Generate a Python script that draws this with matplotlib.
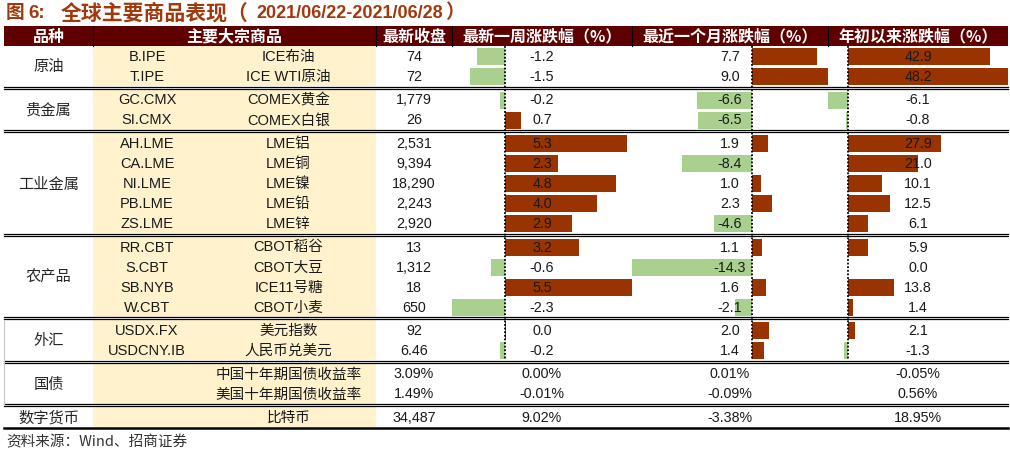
import matplotlib
matplotlib.use("Agg")
import matplotlib.pyplot as plt

categories = ["原油", "贵金属", "工业金属", "农产品", "外汇", "国债", "数字货币"]
group_sizes = [2, 2, 5, 4, 2, 2, 1]
codes = ["B.IPE", "T.IPE", "GC.CMX", "SI.CMX", "AH.LME", "CA.LME", "NI.LME",
         "PB.LME", "ZS.LME", "RR.CBT", "S.CBT", "SB.NYB", "W.CBT", "USDX.FX",
         "USDCNY.IB", "", "", ""]
names = ["ICE布油", "ICE WTI原油", "COMEX黄金", "COMEX白银", "LME铝", "LME铜",
         "LME镍", "LME铅", "LME锌", "CBOT稻谷", "CBOT大豆", "ICE11号糖", "CBOT小麦",
         "美元指数", "人民币兑美元", "中国十年期国债收益率", "美国十年期国债收益率", "比特币"]
close = ["74", "72", "1,779", "26", "2,531", "9,394", "18,290", "2,243", "2,920",
         "13", "1,312", "18", "650", "92", "6.46", "3.09%", "1.49%", "34,487"]
week = [-1.2, -1.5, -0.2, 0.7, 5.3, 2.3, 4.8, 4.0, 2.9, 3.2, -0.6, 5.5, -2.3, 0.04, -0.2]
month = [7.7, 9.0, -6.6, -6.5, 1.9, -8.4, 1.0, 2.3, -4.6, 1.1, -14.3, 1.6, -2.1, 2.0, 1.4]
ytd = [42.9, 48.2, -6.1, -0.8, 27.9, 21.0, 10.1, 12.5, 6.1, 5.9, 0.0, 13.8, 1.4, 2.1, -1.3]
week_pct = ["0.00%", "-0.01%", "9.02%"]
month_pct = ["0.01%", "-0.09%", "-3.38%"]
ytd_pct = ["-0.05%", "0.56%", "18.95%"]
headers = ["品种", "主要大宗商品", "最新收盘", "最新一周涨跌幅（%）",
           "最近一个月涨跌幅（%）", "年初以来涨跌幅（%）"]
title_cn = "全球主要商品表现（"
title_date = "2021/06/22-2021/06/28"
source = "资料来源：Wind、招商证券"

# ---- layout (pixels) ----
W, H = 1010, 453
LEFT, RIGHT = 4, 1008
col_x = [LEFT, 93, 376, 452, 632, 828, RIGHT]
split_x = 201           # between code and name inside the beige area
head_top, head_bot = 26, 46
rh, gap = 20, 3.5

RED = "#993300"
GREEN = "#a9d08e"
BEIGE = "#fff2cc"
HEAD = "#5e0000"
TXT = "#1a1a1a"
LAT = ["Liberation Sans", "Noto Sans CJK SC"]
CJK = ["Noto Sans CJK SC", "DejaVu Sans"]

row_top = []
group_bounds = []
y = head_bot
for g in group_sizes:
    g0 = y
    for i in range(g):
        row_top.append(y)
        y += rh
    group_bounds.append((g0, y))
    y += gap
bottom = group_bounds[-1][1]
row_mid = [t + rh / 2 for t in row_top]
n_bar = len(week)

fig = plt.figure(figsize=(W / 100, H / 100), dpi=100)


def pixel_axes():
    a = fig.add_axes([0, 0, 1, 1])
    a.set_xlim(0, W)
    a.set_ylim(H, 0)
    a.axis("off")
    a.patch.set_alpha(0)
    return a


bg = pixel_axes()

# header band and beige block
bg.add_patch(plt.Rectangle((LEFT, head_top), RIGHT - LEFT, head_bot - head_top,
                           color=HEAD, lw=0))
for g0, g1 in group_bounds:
    bg.add_patch(plt.Rectangle((col_x[1], g0), col_x[2] - col_x[1], g1 - g0,
                               color=BEIGE, lw=0))

# ---- data bars, one axes per column, scaled min..max like Excel ----
bar_cols = [week, month, ytd]
for k, vals in enumerate(bar_cols):
    x0, x1 = col_x[3 + k], col_x[4 + k]
    bax = fig.add_axes([x0 / W, 0, (x1 - x0) / W, 1])
    bax.set_ylim(H, 0)
    bax.set_xlim(min(vals), max(vals))
    bax.axis("off")
    bax.patch.set_alpha(0)
    colors = [RED if v >= 0 else GREEN for v in vals]
    bax.barh([m + 0.6 for m in row_mid[:n_bar]], vals, height=17,
             color=colors, lw=0)
    bax.vlines(0, head_bot, row_top[n_bar - 1] + rh, colors="black",
               linestyles=(0, (1, 1)), lw=1.3)

top = pixel_axes()

# title
tc = "#a03a0e"
top.text(6, 13, "图", family=CJK, fontsize=13.5, fontweight="bold", color=tc,
         va="center", ha="left")
top.text(28, 13, "6:", family=LAT, fontsize=13.5, fontweight="bold", color=tc,
         va="center", ha="left")
top.text(61, 13, title_cn, family=CJK, fontsize=15, fontweight="bold", color=tc,
         va="center", ha="left")
top.text(256, 13, title_date, family=LAT, fontsize=13, fontweight="bold", color=tc,
         va="center", ha="left")
top.text(445, 13, "）", family=CJK, fontsize=14, fontweight="bold", color=tc,
         va="center", ha="left")

# header texts
head_cx = [(col_x[0] + col_x[1]) / 2, (col_x[1] + col_x[2]) / 2] + \
          [(col_x[i] + col_x[i + 1]) / 2 for i in range(2, 6)]
for cx, h in zip(head_cx, headers):
    top.text(cx, (head_top + head_bot) / 2 + 0.5, h, family=CJK, fontsize=11.5,
             fontweight="bold", color="white", ha="center", va="center")
for x in col_x[1:-1]:
    top.plot([x, x], [head_top, head_bot], color="black", lw=0.8)

# category labels
for cat, (g0, g1) in zip(categories, group_bounds):
    top.text((col_x[0] + col_x[1]) / 2, (g0 + g1) / 2 + 1, cat, family=CJK,
             fontsize=11, color="#262626", ha="center", va="center")

# codes, names, close
code_cx = (col_x[1] + split_x) / 2
name_cx = (split_x + col_x[2]) / 2
close_cx = (col_x[2] + col_x[3]) / 2
for i in range(len(names)):
    ym = row_mid[i] + 1
    if codes[i]:
        top.text(code_cx, ym, codes[i], family=LAT, fontsize=10.5, color=TXT,
                 ha="center", va="center")
    top.text(name_cx, ym, names[i], family=LAT, fontsize=10.5, color=TXT,
             ha="center", va="center")
    top.text(close_cx, ym, close[i], family=LAT, fontsize=10.3, color=TXT,
             ha="center", va="center")

# values in bar columns
pct_cols = [week_pct, month_pct, ytd_pct]
for k in range(3):
    cx = (col_x[3 + k] + col_x[4 + k]) / 2
    for i, v in enumerate(bar_cols[k]):
        top.text(cx, row_mid[i] + 1, f"{v:.1f}", family=LAT, fontsize=10.3,
                 color=TXT, ha="center", va="center")
    for j, s in enumerate(pct_cols[k]):
        top.text(cx, row_mid[n_bar + j] + 1, s, family=LAT, fontsize=10.3,
                 color=TXT, ha="center", va="center")

# double lines between groups
for i in range(len(group_bounds) - 1):
    ya = group_bounds[i][1] + 0.6
    yb = group_bounds[i + 1][0] - 0.6
    top.plot([LEFT, RIGHT], [ya, ya], color="black", lw=0.9)
    top.plot([LEFT, RIGHT], [yb, yb], color="black", lw=0.9)
top.plot([LEFT, RIGHT], [bottom + 0.5, bottom + 0.5], color="black", lw=1.8)

# thin grey left border on the fx / bond groups
top.plot([LEFT, LEFT], [group_bounds[4][0], group_bounds[5][1]],
         color="#c8c8c8", lw=0.8)

# source note
top.text(6, 442, source, family=CJK, fontsize=10.5, color="#333333",
         ha="left", va="center")

fig.savefig("out.png", dpi=100)
